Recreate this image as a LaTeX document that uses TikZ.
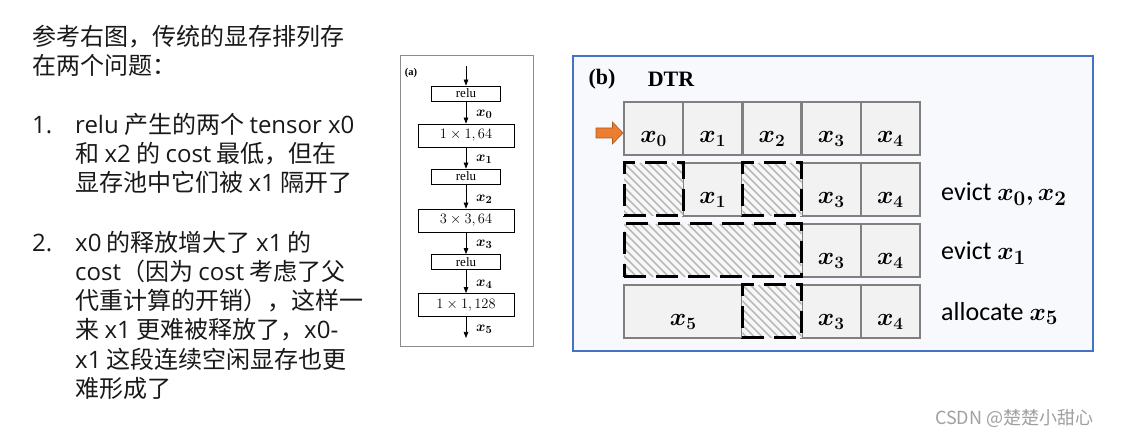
\documentclass[tikz,border=0pt]{standalone}
\usepackage{fontspec}
\usepackage{amsmath}
\usepackage{bm}
\setsansfont{Carlito}
\newfontfamily\cjk{Noto Sans CJK SC}
\newfontfamily\tnr{Liberation Serif}
\newfontfamily\osf{Open Sans}
\newcommand{\la}[1]{{\osf #1}}
\usetikzlibrary{arrows.meta}
\definecolor{panelblue}{RGB}{68,114,196}
\definecolor{panelfill}{RGB}{248,249,252}
\definecolor{cellgray}{RGB}{128,128,128}
\definecolor{cellfill}{RGB}{242,242,242}
\definecolor{hatchgray}{RGB}{185,185,185}
\definecolor{arrorange}{RGB}{237,125,49}
\definecolor{arrorangedk}{RGB}{174,90,33}
\definecolor{wmgray}{RGB}{160,160,160}
\tikzset{
  cjktext/.style={anchor=base west, inner sep=0pt, font=\cjk\fontsize{24}{29}\selectfont, text=black!90},
  abox/.style={draw=black, line width=0.7pt, minimum width=69pt, minimum height=15pt, inner sep=0pt, font=\tnr\fontsize{13}{14}\selectfont},
  wbox/.style={abox, minimum width=96pt, minimum height=23pt, font=\fontsize{13.5}{15}\selectfont},
  aarrow/.style={-{Triangle[length=6pt,width=4.5pt]}, line width=0.7pt},
  alab/.style={anchor=west, inner sep=0pt, font=\fontsize{15}{17}\selectfont},
  memcell/.style={draw=cellgray, fill=cellfill, line width=2.5pt, minimum height=53pt, minimum width=59.2pt, inner sep=0pt, outer sep=0pt},
  freecell/.style={memcell, draw=black, fill=cellfill!60, line width=3pt, dash pattern=on 22pt off 10pt,
    path picture={
      \foreach \k in {-10,...,30}
        \draw[solid, draw=hatchgray, line width=1.6pt]
          ([xshift=\k*8pt]path picture bounding box.north west) -- ++(70,70);
    }},
  celllab/.style={anchor=base, inner sep=0pt, font=\fontsize{25}{28}\selectfont},
  rlab/.style={anchor=base west, inner sep=0pt, font=\sffamily\fontsize{26}{30}\selectfont},
}
\newcommand{\cellx}[2]{\node[celllab] (#1t) at ([yshift=-14pt]#1.center) {$\bm{x_{#2}}$};}
\begin{document}
\begin{tikzpicture}[x=1pt,y=-1pt]
\useasboundingbox[fill=white] (0,0) rectangle (1122,438);

% ---------- left text ----------
\node[cjktext] (l1) at (32,46) {参考右图，传统的显存排列存};
\node[cjktext] (l2) at (32,75) {在两个问题：};
\node[cjktext] (n1) at (32,134) {\la{1.}};
\node[cjktext] (l3) at (75,134) {\la{relu} 产生的两个 \la{tensor x0}};
\node[cjktext] (l4) at (75,163) {和 \la{x2} 的 \la{cost} 最低，但在};
\node[cjktext] (l5) at (75,192) {显存池中它们被 \la{x1} 隔开了};
\node[cjktext] (n2) at (32,252) {\la{2.}};
\node[cjktext] (l6) at (75,252) {\la{x0} 的释放增大了 \la{x1} 的};
\node[cjktext] (l7) at (75,281) {\la{cost}（因为 \la{cost} 考虑了父};
\node[cjktext] (l8) at (75,310) {代重计算的开销），这样一};
\node[cjktext] (l9) at (75,339) {来 \la{x1} 更难被释放了，\la{x0-}};
\node[cjktext] (l10) at (75,368) {\la{x1} 这段连续空闲显存也更};
\node[cjktext] (l11) at (75,397) {难形成了};

% ---------- panel (a) ----------
\draw[draw=black!45, line width=0.8pt] (400,55) rectangle (533,346);
\node[font=\tnr\bfseries\fontsize{10.5}{12}\selectfont, inner sep=0pt] (alabel) at (411,73) {(a)};
\coordinate (ain) at (466,66);
\coordinate (aout) at (466,338);
\node[abox] (r1) at (466,93.5) {relu};
\node[wbox] (c1) at (466,135.5) {$1\times 1,64$};
\node[abox] (r2) at (466,176.5) {relu};
\node[wbox] (c2) at (466,220.5) {$3\times 3,64$};
\node[abox] (r3) at (466,262) {relu};
\node[wbox] (c3) at (466,305) {$1\times 1,128$};
\draw[aarrow] (ain) -- (r1.north);
\draw[aarrow] (r1.south) -- (c1.north);
\draw[aarrow] (c1.south) -- (r2.north);
\draw[aarrow] (r2.south) -- (c2.north);
\draw[aarrow] (c2.south) -- (r3.north);
\draw[aarrow] (r3.south) -- (c3.north);
\draw[aarrow] (c3.south) -- (aout);
\node[alab] (ax0) at (476,114) {$\bm{x_0}$};
\node[alab] (ax1) at (476,159) {$\bm{x_1}$};
\node[alab] (ax2) at (476,199) {$\bm{x_2}$};
\node[alab] (ax3) at (476,244) {$\bm{x_3}$};
\node[alab] (ax4) at (476,284) {$\bm{x_4}$};
\node[alab] (ax5) at (476,329) {$\bm{x_5}$};

% ---------- panel (b) ----------
\draw[draw=panelblue, fill=panelfill, line width=2pt] (573,56) rectangle (1093,351);
\node[font=\tnr\bfseries\fontsize{22}{24}\selectfont, inner sep=0pt] (blabel) at (602,79) {(b)};
\node[font=\tnr\bfseries\fontsize{22}{24}\selectfont, inner sep=0pt] (dtr) at (671,79) {DTR};

% row 1
\node[memcell] (a0) at (653.6,128.5) {};
\node[memcell] (a1) at (712.8,128.5) {};
\node[memcell] (a2) at (772.0,128.5) {};
\node[memcell] (a3) at (831.2,128.5) {};
\node[memcell] (a4) at (890.4,128.5) {};
\cellx{a0}{0} \cellx{a1}{1} \cellx{a2}{2} \cellx{a3}{3} \cellx{a4}{4}
% row 2
\node[memcell] (b1) at (712.8,189.5) {};
\node[memcell] (b3) at (831.2,189.5) {};
\node[memcell] (b4) at (890.4,189.5) {};
\node[freecell] (b0) at (653.6,189.5) {};
\node[freecell] (b2) at (772.0,189.5) {};
\cellx{b1}{1} \cellx{b3}{3} \cellx{b4}{4}
% row 3
\node[memcell] (d3) at (831.2,250.5) {};
\node[memcell] (d4) at (890.4,250.5) {};
\node[freecell, minimum width=177.6pt] (d0) at (712.8,250.5) {};
\cellx{d3}{3} \cellx{d4}{4}
% row 4
\node[memcell, minimum width=118.4pt] (e0) at (683.2,311.5) {};
\node[memcell] (e3) at (831.2,311.5) {};
\node[memcell] (e4) at (890.4,311.5) {};
\node[freecell] (e2) at (772.0,311.5) {};
\cellx{e0}{5} \cellx{e3}{3} \cellx{e4}{4}

% orange pointer arrow
\draw[fill=arrorange, draw=arrorangedk, line width=0.6pt]
  (596,128) -- (612.5,128) -- (612.5,122) -- (623,133) -- (612.5,144) -- (612.5,138) -- (596,138) -- cycle;

% right labels
\node[rlab] (ev1) at (941,201) {evict {\fontsize{28}{30}\selectfont$\bm{x_0,x_2}$}};
\node[rlab] (ev2) at (941,260) {evict {\fontsize{28}{30}\selectfont$\bm{x_1}$}};
\node[rlab] (al5) at (941,320) {allocate {\fontsize{28}{30}\selectfont$\bm{x_5}$}};

% watermark
\node[anchor=base west, inner sep=0pt, text=wmgray, font=\cjk\fontsize{18}{20}\selectfont] (wm) at (935,424) {CSDN @楚楚小甜心};
\end{tikzpicture}
\end{document}
